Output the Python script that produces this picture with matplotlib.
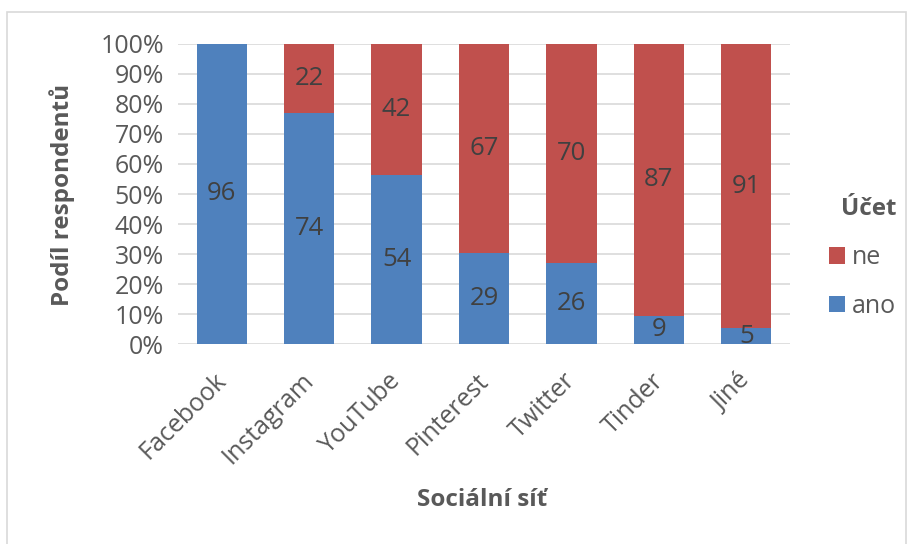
import matplotlib
matplotlib.use("Agg")
import matplotlib.pyplot as plt
from matplotlib.patches import Rectangle
from matplotlib.ticker import PercentFormatter
from matplotlib.transforms import ScaledTranslation
import numpy as np

categories = ["Facebook", "Instagram", "YouTube", "Pinterest", "Twitter", "Tinder", "Jiné"]
ano = [96, 74, 54, 29, 26, 9, 5]
ne = [0, 22, 42, 67, 70, 87, 91]

BLUE = "#4F81BD"
RED = "#C0504D"
TEXT = "#595959"
GRID = "#D9D9D9"

plt.rcParams["font.family"] = ["Open Sans", "DejaVu Sans"]

fig = plt.figure(figsize=(9.08, 5.44), dpi=100)
W, H = 908, 544
ax = fig.add_axes([178 / W, 1 - 344 / H, (790 - 178) / W, 300 / H])

# outer chart frame
fig.patches.append(Rectangle((7 / W, -0.01), (906 - 7) / W, 1 - 12 / H + 0.01,
                             transform=fig.transFigure, fill=False,
                             edgecolor="#D9D9D9", linewidth=1.2))

ano_a = np.array(ano, dtype=float)
ne_a = np.array(ne, dtype=float)
total = ano_a + ne_a
ano_p = ano_a / total
ne_p = ne_a / total

x = np.arange(len(categories))
width = 0.575
b1 = ax.bar(x, ano_p, width, color=BLUE, label="ano", zorder=3)
b2 = ax.bar(x, ne_p, width, bottom=ano_p, color=RED, label="ne", zorder=3)

for i in range(len(categories)):
    if ano[i] > 0:
        ax.text(x[i], ano_p[i] / 2, str(ano[i]), ha="center", va="center",
                fontsize=18.5, color="#404040", zorder=4)
    if ne[i] > 0:
        ax.text(x[i], ano_p[i] + ne_p[i] / 2, str(ne[i]), ha="center", va="center",
                fontsize=18.5, color="#404040", zorder=4)

ax.set_xlim(-0.5, len(categories) - 0.5)
ax.set_ylim(0, 1)
ax.set_yticks(np.linspace(0, 1, 11))
ax.yaxis.set_major_formatter(PercentFormatter(1.0, decimals=0))
ax.grid(axis="y", color=GRID, linewidth=1.2, zorder=0)
ax.set_axisbelow(True)
for s in ax.spines.values():
    s.set_visible(False)
ax.tick_params(axis="both", length=0, colors=TEXT, labelsize=18)
ax.tick_params(axis="y", pad=10)
ax.set_xticks(x)
ax.set_xticklabels(categories, rotation=45, ha="right", rotation_mode="anchor")
ax.tick_params(axis="x", pad=16)
shift = ScaledTranslation(-8 / 100, -2 / 100, fig.dpi_scale_trans)
for lbl in ax.get_xticklabels():
    lbl.set_transform(lbl.get_transform() + shift)

ax.set_ylabel("Podíl respondentů", fontsize=17.5, fontweight="bold", color=TEXT)
ax.yaxis.set_label_coords((75 - 178) / 612, 0.497)
fig.text(482 / W, 1 - 500 / H, "Sociální síť", fontsize=17.5, fontweight="bold",
         color=TEXT, ha="center", va="center")

handles = [b2, b1]
leg = fig.legend(handles, ["ne", "ano"], loc="center left",
                 bbox_to_anchor=(806 / W, 1 - 258 / H), frameon=False,
                 title="Účet", fontsize=18, handlelength=0.65, handleheight=0.65,
                 handletextpad=0.3, labelspacing=0.95, labelcolor=TEXT)
leg.get_title().set_fontweight("bold")
leg.get_title().set_fontsize(17.5)
leg.get_title().set_color(TEXT)
leg._legend_box.align = "right"

fig.savefig("out.png", dpi=100, facecolor="white")
